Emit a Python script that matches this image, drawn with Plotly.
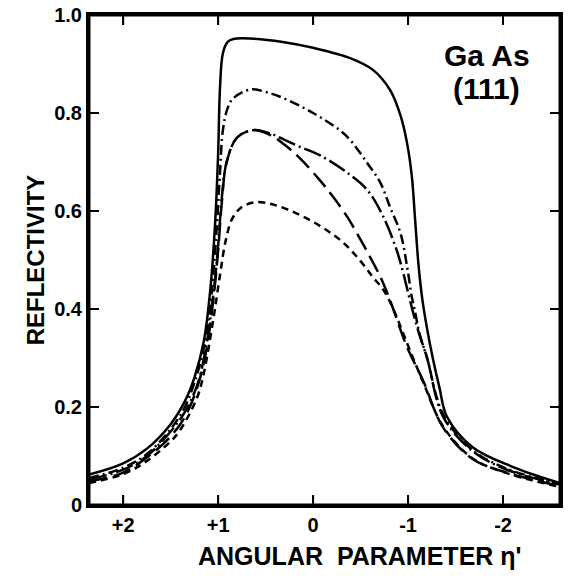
import plotly.graph_objects as go

# Angular parameter (eta') sample points and reflectivity for each curve
x_solid = [2.36, 2.0, 1.75, 1.5, 1.35, 1.25, 1.15, 1.08, 1.03, 1.0, 0.98, 0.95, 0.9, 0.84, 0.66, 0.32, 0.0,
           -0.39, -0.63, -0.81, -0.92, -0.99, -1.04, -1.075, -1.11, -1.15, -1.2, -1.26, -1.33, -1.41, -1.68,
           -2.1, -2.6]
y_solid = [0.062, 0.085, 0.115, 0.165, 0.212, 0.260, 0.335, 0.445, 0.582, 0.718, 0.853, 0.922, 0.945, 0.951,
           0.952, 0.945, 0.933, 0.912, 0.888, 0.847, 0.795, 0.738, 0.670, 0.580, 0.490, 0.420, 0.360, 0.300,
           0.240, 0.180, 0.118, 0.078, 0.045]

x_dashdot_a = [2.36, 2.0, 1.75, 1.5, 1.35, 1.25, 1.15, 1.07, 1.02, 0.98, 0.95, 0.9, 0.84, 0.66, 0.5, 0.32, 0.0,
               -0.28, -0.39, -0.57, -0.71, -0.81, -0.92, -0.99, -1.04, -1.07, -1.12, -1.2, -1.37, -1.68, -2.04, -2.6]
y_dashdot_a = [0.055, 0.076, 0.104, 0.155, 0.200, 0.250, 0.320, 0.430, 0.550, 0.680, 0.765, 0.810, 0.830, 0.848,
               0.843, 0.831, 0.800, 0.765, 0.745, 0.698, 0.657, 0.608, 0.555, 0.486, 0.424, 0.398, 0.350, 0.300,
               0.185, 0.112, 0.074, 0.043]

x_dashdot_b = [2.36, 2.0, 1.75, 1.5, 1.35, 1.22, 1.13, 1.05, 1.0, 0.96, 0.91, 0.8, 0.63, 0.45, 0.3, 0.14, -0.07,
               -0.36, -0.57, -0.74, -0.88, -0.95, -1.02, -1.1, -1.2, -1.37, -1.68, -2.04, -2.6]
y_dashdot_b = [0.052, 0.072, 0.100, 0.150, 0.190, 0.245, 0.320, 0.430, 0.530, 0.630, 0.700, 0.750, 0.765, 0.758,
               0.745, 0.731, 0.714, 0.678, 0.643, 0.588, 0.520, 0.473, 0.418, 0.360, 0.300, 0.180, 0.110, 0.072,
               0.042]

x_longdash = [2.36, 2.0, 1.75, 1.5, 1.35, 1.22, 1.13, 1.05, 1.0, 0.96, 0.91, 0.8, 0.63, 0.45, 0.3, 0.14, -0.07,
              -0.21, -0.36, -0.46, -0.6, -0.71, -0.78, -0.84, -0.99, -1.16, -1.37, -1.68, -2.04, -2.6]
y_longdash = [0.048, 0.066, 0.097, 0.140, 0.180, 0.240, 0.310, 0.420, 0.520, 0.620, 0.700, 0.750, 0.765, 0.755,
              0.735, 0.708, 0.663, 0.629, 0.588, 0.555, 0.506, 0.465, 0.433, 0.402, 0.322, 0.253, 0.158, 0.094,
              0.066, 0.039]

x_shortdash = [2.36, 2.0, 1.75, 1.5, 1.4, 1.22, 1.15, 1.05, 0.98, 0.92, 0.85, 0.75, 0.6, 0.4, 0.14, -0.11, -0.32,
               -0.49, -0.63, -0.74, -0.84, -0.99, -1.16, -1.37, -1.68, -2.04, -2.6]
y_shortdash = [0.045, 0.063, 0.090, 0.130, 0.153, 0.220, 0.270, 0.380, 0.470, 0.540, 0.585, 0.608, 0.618, 0.612,
               0.592, 0.565, 0.535, 0.500, 0.465, 0.439, 0.402, 0.330, 0.250, 0.160, 0.095, 0.065, 0.037]

x_tick_vals = [2, 1, 0, -1, -2]
x_tick_text = ["+2", "+1", "0", "-1", "-2"]
y_tick_vals = [0, 0.2, 0.4, 0.6, 0.8, 1.0]
y_tick_text = ["0", "0.2", "0.4", "0.6", "0.8", "1.0"]

FONT = "Liberation Sans"
W, H = 575, 580
ML, MR, MT, MB = 89, 15, 15, 75
X_RANGE = [2.36, -2.6]
Y_RANGE = [0, 1.0]
TICK_PX = 10

series = [
    (x_solid, y_solid, "solid"),
    (x_dashdot_a, y_dashdot_a, "10px,4px,2px,4px"),
    (x_dashdot_b, y_dashdot_b, "18px,4px,2px,4px"),
    (x_longdash, y_longdash, "18px,7px"),
    (x_shortdash, y_shortdash, "7px,5px"),
]

fig = go.Figure()
for xs, ys, dash in series:
    fig.add_trace(go.Scatter(
        x=xs, y=ys, mode="lines",
        line=dict(color="black", width=2.5, dash=dash, shape="spline", smoothing=1.0),
        showlegend=False, hoverinfo="skip"))

# frame and inward tick marks, built from the axis ranges and tick values
x0, x1 = X_RANGE
y0, y1 = Y_RANGE
dx = (x0 - x1) * TICK_PX / (W - ML - MR)
dy = (y1 - y0) * TICK_PX / (H - MT - MB)

fig.add_trace(go.Scatter(
    x=[x0, x1, x1, x0, x0], y=[y0, y0, y1, y1, y0], mode="lines",
    line=dict(color="black", width=3), cliponaxis=False,
    showlegend=False, hoverinfo="skip"))

tx, ty = [], []
for v in x_tick_vals:
    tx += [v, v, None, v, v, None]
    ty += [y0, y0 + dy, None, y1, y1 - dy, None]
for v in y_tick_vals[1:-1]:
    tx += [x0, x0 - dx, None, x1, x1 + dx, None]
    ty += [v, v, None, v, v, None]
fig.add_trace(go.Scatter(
    x=tx, y=ty, mode="lines", line=dict(color="black", width=2),
    cliponaxis=False, showlegend=False, hoverinfo="skip"))

axis_common = dict(
    showline=True, linecolor="black", linewidth=3, mirror="allticks",
    ticks="inside", ticklen=TICK_PX, tickwidth=2, tickcolor="black",
    showgrid=False, zeroline=False, ticklabeloverflow="allow",
    tickfont=dict(family=FONT, size=20, color="black", weight="bold"),
)

fig.update_xaxes(
    range=X_RANGE, tickmode="array", tickvals=x_tick_vals, ticktext=x_tick_text,
    **axis_common)
fig.update_yaxes(
    range=Y_RANGE, tickmode="array", tickvals=y_tick_vals, ticktext=y_tick_text,
    title=dict(text="REFLECTIVITY", font=dict(family=FONT, size=24, color="black", weight="bold"),
               standoff=3),
    ticklabelstandoff=0,
    **axis_common)

# x-axis title as annotation so it can sit right of centre like the original
fig.add_annotation(
    x=0.575, y=-0.104, xref="paper", yref="paper", xanchor="center", yanchor="middle",
    text="ANGULAR  PARAMETER η'", showarrow=False,
    font=dict(family=FONT, size=25, color="black", weight="bold"))

fig.add_annotation(
    x=0.845, y=0.918, xref="paper", yref="paper", xanchor="center", yanchor="middle",
    text="Ga As", showarrow=False,
    font=dict(family=FONT, size=30, color="black", weight="bold"))
fig.add_annotation(
    x=0.845, y=0.85, xref="paper", yref="paper", xanchor="center", yanchor="middle",
    text="(111)", showarrow=False,
    font=dict(family=FONT, size=30, color="black", weight="bold"))

fig.update_layout(
    width=W, height=H,
    margin=dict(l=ML, r=MR, t=MT, b=MB, autoexpand=False),
    paper_bgcolor="white", plot_bgcolor="white",
)

# remove the default page margin so the figure starts at the window's corner
fig.write_html("out.html", config={"displayModeBar": False},
               post_script="document.body.style.margin='0';")
